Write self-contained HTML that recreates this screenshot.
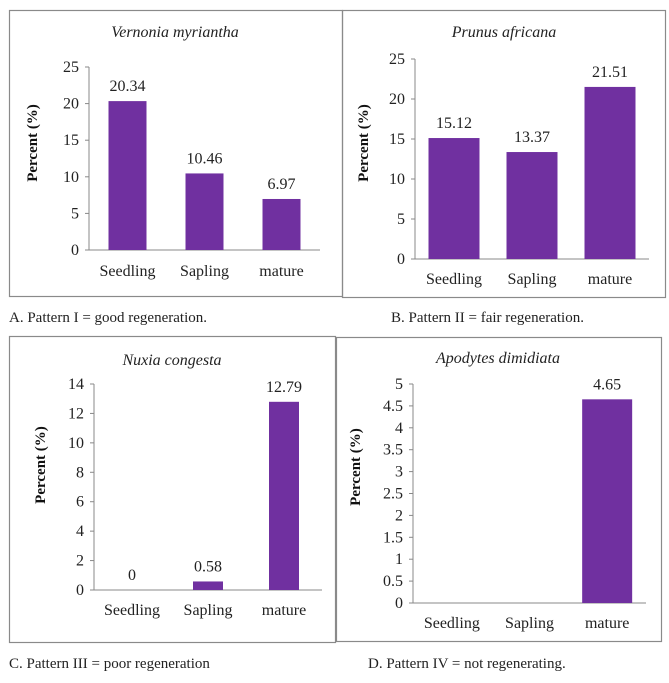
<!DOCTYPE html>
<html><head><meta charset="utf-8"><style>
html,body{margin:0;padding:0;background:#fff;}
svg, svg text{font-family:"Liberation Serif","Times New Roman",Times,serif;}
</style></head><body>
<svg id="s" width="669" height="678" viewBox="0 0 669 678" xmlns="http://www.w3.org/2000/svg"></svg>
<script>
const categories = ["Seedling","Sapling","mature"];
const valuesA = [20.34,10.46,6.97];
const valuesB = [15.12,13.37,21.51];
const valuesC = [0,0.58,12.79];
const valuesD = [0,0,4.65];
const labelsA = ["20.34","10.46","6.97"];
const labelsB = ["15.12","13.37","21.51"];
const labelsC = ["0","0.58","12.79"];
const labelsD = ["","","4.65"];
const ticksA = [0,5,10,15,20,25];
const ticksB = [0,5,10,15,20,25];
const ticksC = [0,2,4,6,8,10,12,14];
const ticksD = [0,0.5,1,1.5,2,2.5,3,3.5,4,4.5,5];

const NS="http://www.w3.org/2000/svg";
const svg=document.getElementById('s');
const FF='"Liberation Serif","Times New Roman",serif';
function mk(tag,attrs,parent,text){const e=document.createElementNS(NS,tag);for(const k in attrs)e.setAttribute(k,attrs[k]);if(tag==='text')e.setAttribute('font-family',FF);if(text!==undefined)e.textContent=text;(parent||svg).appendChild(e);return e;}

const panels=[
 {id:'a',title:'Vernonia myriantha',vals:valuesA,labs:labelsA,ticks:ticksA,box:[9,10,333,286],ax:89,y0:250,yTop:67,right:320,bw:38,titleX:175,titleY:37,catY:276,ytX:37,ytY:143,cap:'A. Pattern I = good regeneration.',capX:9,capY:322},
 {id:'b',title:'Prunus africana',vals:valuesB,labs:labelsB,ticks:ticksB,box:[342,10,323,287],ax:415,y0:259,yTop:59,right:649,bw:51,titleX:504,titleY:37,catY:284,ytX:368,ytY:143,cap:'B. Pattern II = fair regeneration.',capX:391,capY:322},
 {id:'c',title:'Nuxia congesta',vals:valuesC,labs:labelsC,ticks:ticksC,box:[9,336,326,306],ax:94,y0:590,yTop:384,right:322,bw:30,titleX:172,titleY:365,catY:615,ytX:45,ytY:465,cap:'C. Pattern III = poor regeneration',capX:9,capY:668},
 {id:'d',title:'Apodytes dimidiata',vals:valuesD,labs:labelsD,ticks:ticksD,box:[336,337,325,304],ax:413,y0:603,yTop:384,right:646,bw:50,titleX:498,titleY:363,catY:628,ytX:360,ytY:467,cap:'D. Pattern IV = not regenerating.',capX:368,capY:668}
];

panels.forEach(p=>{
  const g=mk('g',{});
  
  
  const b=mk('rect',{x:p.box[0]+0.5,y:p.box[1]+0.5,width:p.box[2],height:p.box[3],fill:'none',stroke:'#8a8a8a','stroke-width':1.2},g);
  
  
  const t=mk('text',{x:p.titleX,y:p.titleY,'text-anchor':'middle','font-size':16,'font-style':'italic',fill:'#222'},g,p.title);
  
  
  const max=p.ticks[p.ticks.length-1];
  const ys=v=>p.y0-(v/max)*(p.y0-p.yTop);
  const cw=(p.right-p.ax)/categories.length;
  const xs=i=>p.ax+cw*(i+0.5);
  p.ticks.forEach(tv=>{
    const tl=mk('text',{x:p.ax-10,y:ys(tv)+5,'text-anchor':'end','font-size':16,fill:'#222'},g,String(tv));
    
    
    mk('line',{x1:p.ax-4,x2:p.ax,y1:ys(tv),y2:ys(tv),stroke:'#888'},g);
  });
  const ya=mk('line',{x1:p.ax,x2:p.ax,y1:p.yTop,y2:p.y0,stroke:'#888','stroke-width':1},g);
  
  
  const xa=mk('line',{x1:p.ax,x2:p.right,y1:p.y0,y2:p.y0,stroke:'#888','stroke-width':1},g);
  
  
  p.vals.forEach((v,i)=>{
    const h=p.y0-ys(v);
    if(h>0){
      const r=mk('rect',{x:xs(i)-p.bw/2,y:ys(v),width:p.bw,height:h,fill:'#7030a0'},g);
      
      
    }
    if(p.labs[i]!==''){
      const l=mk('text',{x:xs(i),y:ys(v)-10,'text-anchor':'middle','font-size':16,fill:'#222'},g,p.labs[i]);
      
      
    }
    const c=mk('text',{x:xs(i),y:p.catY,'text-anchor':'middle','font-size':16,fill:'#222'},g,categories[i]);
    
    
  });
  const yt=mk('text',{x:p.ytX,y:p.ytY,'text-anchor':'middle','font-size':15,'font-weight':'bold',fill:'#111',transform:`rotate(-90 ${p.ytX} ${p.ytY})`},g,'Percent (%)');
  
  
  const cap=mk('text',{x:p.capX,y:p.capY,'font-size':15,fill:'#222'},svg,p.cap);
  
  
});
</script>
</body></html>
